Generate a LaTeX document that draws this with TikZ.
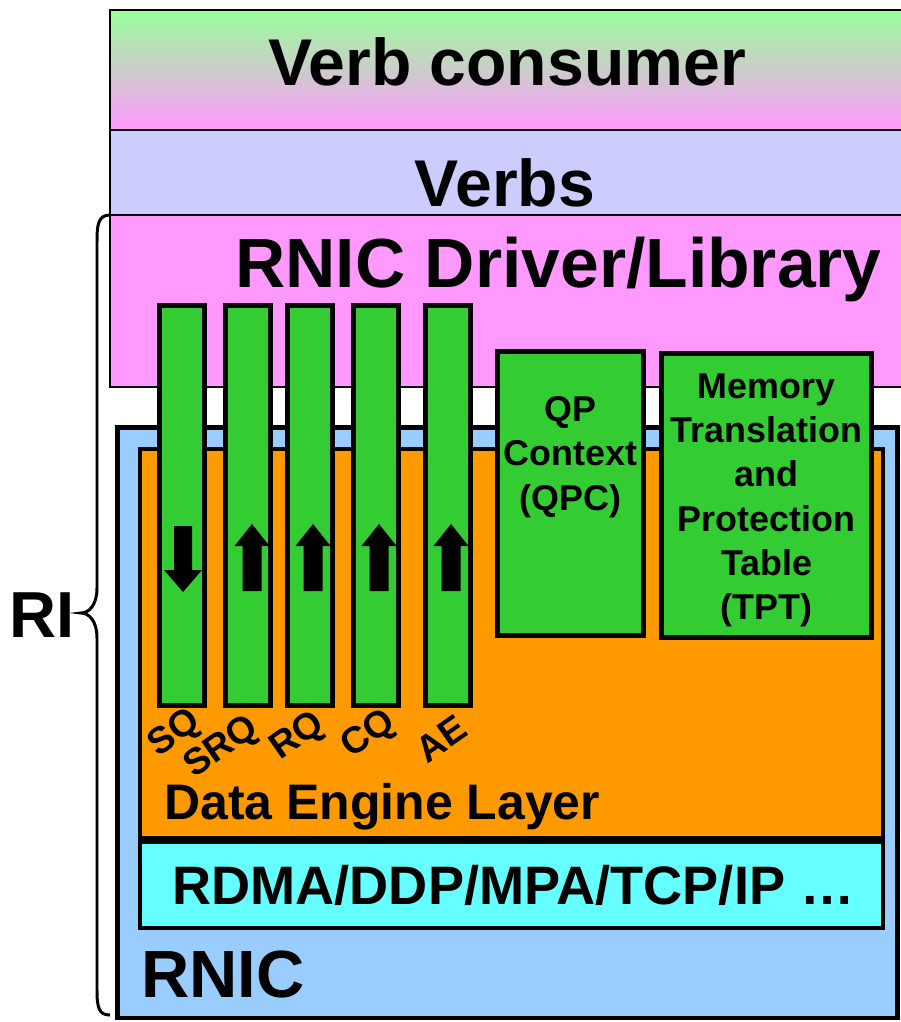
\documentclass[tikz,border=0pt]{standalone}
\usepackage{fontspec}
\setmainfont{Liberation Sans}
\definecolor{vc_top}{HTML}{99FF99}
\definecolor{drv_c}{HTML}{FF99FF}
\definecolor{verbs_c}{HTML}{CCCCFF}
\definecolor{rnic_c}{HTML}{99CCFF}
\definecolor{engine_c}{HTML}{FF9900}
\definecolor{proto_c}{HTML}{66FFFF}
\definecolor{queue_c}{HTML}{33CC33}
\usepackage{tikz}
\usetikzlibrary{positioning}

\begin{document}
\begin{tikzpicture}[
		x=0.01cm, y=-0.01cm,
		layer/.style = {draw=black, line width=0.4pt},
		box/.style = {draw=black, line width=1.4pt},
		title/.style = {font=\bfseries\fontsize{18.8}{20}\selectfont},
		boxtext/.style = {font=\bfseries\fontsize{10.2}{12.6}\selectfont, align=center},
		qlabel/.style = {font=\bfseries\fontsize{10.6}{12}\selectfont, rotate=35, inner sep=0pt},
		]
		\useasboundingbox (0,0) rectangle (900,1022);
		% host side layers
		\shade[top color=vc_top, bottom color=drv_c] (110,10) rectangle (905,130);
		\draw[layer] (110,10) rectangle (905,130);
		\draw[layer, fill=verbs_c] (110,130) rectangle (905,215);
		\draw[layer, fill=drv_c] (110,215) rectangle (905,387);
		\node[title] (consumer) at (507,62) {Verb consumer};
		\node[title] (verbs) at (505,183) {Verbs};
		\node[title, font=\bfseries\fontsize{19.8}{22}\selectfont, anchor=west] (driver) at (223,270) {RNIC Driver/Library};
		% adapter
		\draw[box, fill=rnic_c] (117.5,427.5) rectangle (897.5,1018);
		\draw[box, fill=engine_c] (140,449) rectangle (883,838);
		\draw[box, fill=proto_c] (140,842) rectangle (883,928);
		\node[font=\bfseries\fontsize{14.2}{16}\selectfont, anchor=west] (engine) at (152,807) {Data Engine Layer};
		\node[font=\bfseries\fontsize{15.4}{17}\selectfont, anchor=west] (proto) at (160,885) {RDMA/DDP/MPA/TCP/IP \ldots};
		\node[font=\bfseries\fontsize{19}{21}\selectfont, anchor=west] (rnic) at (129,974) {RNIC};
		% queues
		\foreach \c/\lab/\lx/\ly in {182/SQ/175/734, 248/SRQ/222/748, 310/RQ/298/737, 376/CQ/369/735, 448/AE/441/739} {
			\draw[box, fill=queue_c] (\c-22.5,305.5) rectangle (\c+22.5,705.5);
			\node[qlabel] (q\lab) at (\lx,\ly) {\lab};
		}
		% send queue flows down, the others up
		\fill (174,526) -- (192,526) -- (192,570) -- (202,570) -- (183,592) -- (164,570) -- (174,570) -- cycle;
		\foreach \c in {252, 313, 379, 451} {
			\fill (\c-9.5,591) -- (\c+9.5,591) -- (\c+9.5,546) -- (\c+17.5,546) -- (\c,524) -- (\c-17.5,546) -- (\c-9.5,546) -- cycle;
		}
		% tables
		\draw[box, fill=queue_c] (497.5,351.5) rectangle (643.5,635.5);
		\draw[box, fill=queue_c] (661.5,353.5) rectangle (871.5,637.5);
		\node[boxtext, anchor=north] (qpc) at (570.5,384) {QP\\Context\\(QPC)};
		\node[boxtext, anchor=north] (tpt) at (766.5,361) {Memory\\Translation\\and\\Protection\\Table\\(TPT)};
		% interface brace
		\draw[line width=0.85pt] (110,215) .. controls (98,215) and (97,225) .. (97,242) -- (97,588)
			.. controls (97,605) and (89,613) .. (81,613) .. controls (89,613) and (97,621) .. (97,638)
			-- (97,990) .. controls (97,1008) and (99,1015) .. (110,1015);
		\node[font=\bfseries\fontsize{18.5}{20}\selectfont, anchor=east, inner sep=0pt] (ri) at (75,615) {RI};
\end{tikzpicture}
\end{document}
